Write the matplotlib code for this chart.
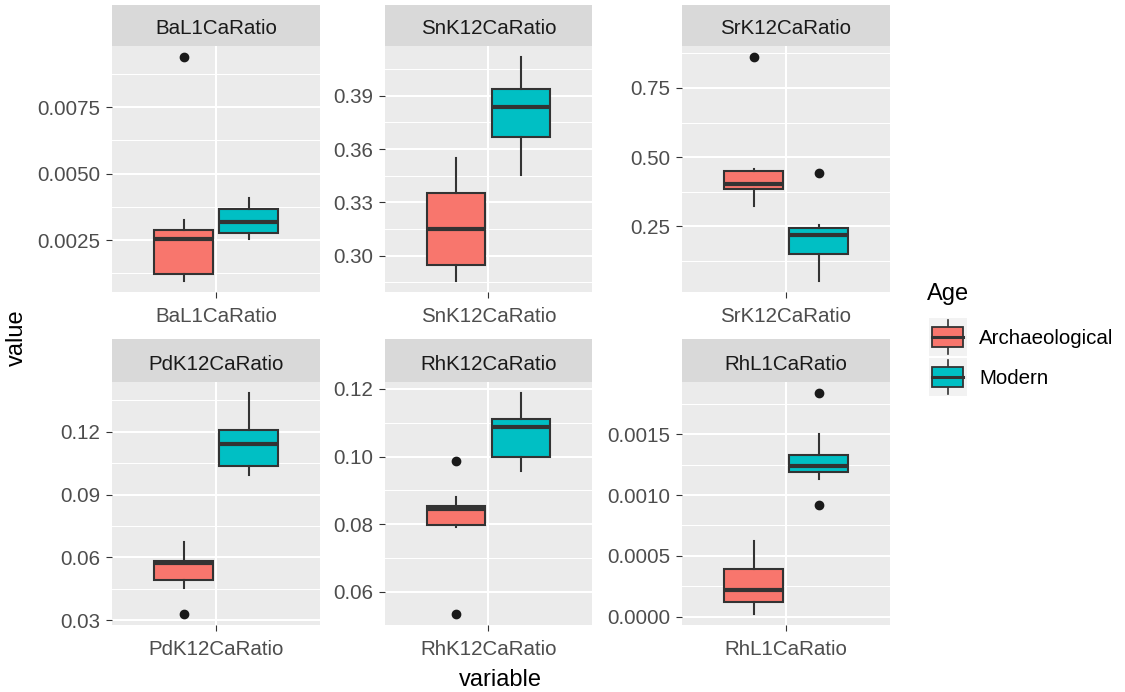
import matplotlib
matplotlib.use("Agg")
import matplotlib.pyplot as plt
from matplotlib.patches import Rectangle
import numpy as np

plt.rcParams['font.family'] = ['Liberation Sans', 'DejaVu Sans']

# ---------------- data ----------------
variables = ['BaL1CaRatio', 'SnK12CaRatio', 'SrK12CaRatio',
             'PdK12CaRatio', 'RhK12CaRatio', 'RhL1CaRatio']
groups = ['Archaeological', 'Modern']
group_colors = ['#F8766D', '#00BFC4']

arch_lo = [0.00097, 0.2858, 0.3233, 0.0453, 0.0791, 0.000022]
arch_q1 = [0.00124, 0.2949, 0.3834, 0.0494, 0.0797, 0.000124]
arch_med = [0.00254, 0.3152, 0.4029, 0.0573, 0.0846, 0.000220]
arch_q3 = [0.00288, 0.3354, 0.4505, 0.0585, 0.0853, 0.000393]
arch_hi = [0.00324, 0.3550, 0.4580, 0.0675, 0.0879, 0.000626]
arch_fliers = [[0.00938], [], [0.861], [0.0330], [0.0988, 0.0534], []]

mod_lo = [0.00254, 0.3455, 0.0535, 0.0995, 0.0956, 0.001129]
mod_q1 = [0.00277, 0.3667, 0.1488, 0.1038, 0.1000, 0.001189]
mod_med = [0.00320, 0.3837, 0.2185, 0.1140, 0.1088, 0.001239]
mod_q3 = [0.00367, 0.3938, 0.2427, 0.1208, 0.1110, 0.001333]
mod_hi = [0.00408, 0.4118, 0.2562, 0.1385, 0.1188, 0.001506]
mod_fliers = [[], [], [0.4443], [], [], [0.00184, 0.000921]]

y_ticks = [[0.0025, 0.0050, 0.0075],
           [0.30, 0.33, 0.36, 0.39],
           [0.25, 0.50, 0.75],
           [0.03, 0.06, 0.09, 0.12],
           [0.06, 0.08, 0.10, 0.12],
           [0.0000, 0.0005, 0.0010, 0.0015]]
y_tick_labels = [['0.0025', '0.0050', '0.0075'],
                 ['0.30', '0.33', '0.36', '0.39'],
                 ['0.25', '0.50', '0.75'],
                 ['0.03', '0.06', '0.09', '0.12'],
                 ['0.06', '0.08', '0.10', '0.12'],
                 ['0.0000', '0.0005', '0.0010', '0.0015']]

# ---------------- layout ----------------
W, H = 1125, 692
fig = plt.figure(figsize=(W / 100, H / 100), dpi=100)
fig.patch.set_facecolor('white')

col_x = [(112, 320), (385, 592), (682, 890)]
row_strip = [(5, 46), (339, 382)]
row_panel = [(46, 292), (382, 625)]

def px_axes(x0, y0, x1, y1):
    return fig.add_axes([x0 / W, 1 - y1 / H, (x1 - x0) / W, (y1 - y0) / H])

TXT = 14.8
BOX_EDGE = '#333333'

for i, var in enumerate(variables):
    r, c = divmod(i, 3)
    x0, x1 = col_x[c]
    sy0, sy1 = row_strip[r]
    py0, py1 = row_panel[r]

    # strip
    sax = px_axes(x0, sy0, x1, sy1)
    sax.set_facecolor('#D9D9D9')
    sax.set_xticks([]); sax.set_yticks([])
    for s in sax.spines.values():
        s.set_visible(False)
    sax.text(0.5, 0.5 - 3.5 / (sy1 - sy0), var, ha='center', va='center', fontsize=TXT,
             color='#1A1A1A', transform=sax.transAxes)

    ax = px_axes(x0, py0, x1, py1)
    ax.set_facecolor('#EBEBEB')
    for s in ax.spines.values():
        s.set_visible(False)

    stats = [
        dict(med=arch_med[i], q1=arch_q1[i], q3=arch_q3[i],
             whislo=arch_lo[i], whishi=arch_hi[i], fliers=arch_fliers[i]),
        dict(med=mod_med[i], q1=mod_q1[i], q3=mod_q3[i],
             whislo=mod_lo[i], whishi=mod_hi[i], fliers=mod_fliers[i]),
    ]
    all_vals = [arch_lo[i], arch_hi[i], mod_lo[i], mod_hi[i]] + arch_fliers[i] + mod_fliers[i]
    lo, hi = min(all_vals), max(all_vals)
    pad = (hi - lo) * 0.05
    ylo, yhi = lo - pad, hi + pad
    ax.set_ylim(ylo, yhi)
    ax.set_xlim(0.4, 1.6)

    # grid
    t = y_ticks[i]
    step = t[1] - t[0]
    minors = [t[0] - step / 2] + [v + step / 2 for v in t]
    for m in minors:
        if ylo < m < yhi:
            ax.axhline(m, color='white', lw=0.75, zorder=0.5)
    for v in t:
        ax.axhline(v, color='white', lw=1.5, zorder=0.6)
    ax.axvline(1, color='white', lw=1.5, zorder=0.6)

    res = ax.bxp(stats, positions=[1 - 0.1875, 1 + 0.1875], widths=0.3375,
                 patch_artist=True, showcaps=False,
                 boxprops=dict(edgecolor=BOX_EDGE, linewidth=1.5),
                 whiskerprops=dict(color=BOX_EDGE, linewidth=1.5),
                 medianprops=dict(color=BOX_EDGE, linewidth=3.0, solid_capstyle='butt'),
                 flierprops=dict(marker='o', markerfacecolor='#1A1A1A',
                                 markeredgecolor='#1A1A1A', markersize=6,
                                 linestyle='none'),
                 manage_ticks=False, zorder=2)
    for b, col in zip(res['boxes'], group_colors):
        b.set_facecolor(col)

    ax.set_yticks(t)
    ax.set_yticklabels(y_tick_labels[i])
    ax.set_xticks([1])
    ax.set_xticklabels([var])
    ax.tick_params(axis='both', length=4, width=0.8, color='#333333',
                   labelcolor='#4D4D4D', labelsize=TXT, pad=4.5)
    ax.tick_params(axis='x', pad=6.5)

# axis titles
fig.text(17 / W, 1 - 338 / H, 'value', rotation=90, ha='center', va='center',
         fontsize=17, color='black')
fig.text(500 / W, 1 - 680 / H, 'variable', ha='center', va='center',
         fontsize=17, color='black')

# legend (drawn manually in ggplot style)
lax = fig.add_axes([0, 0, 1, 1], facecolor='none')
lax.set_xlim(0, W); lax.set_ylim(H, 0)
lax.axis('off')
lax.text(927, 294, 'Age', ha='left', va='center', fontsize=17, color='black')
key_tops = [318, 358]
for kt, col, lab in zip(key_tops, group_colors, groups):
    lax.add_patch(Rectangle((929, kt), 38, 38, facecolor='#F2F2F2', edgecolor='none'))
    lax.plot([947.5, 947.5], [kt + 2, kt + 36], color=BOX_EDGE, lw=1.2)
    lax.add_patch(Rectangle((932, kt + 9), 31, 20, facecolor=col,
                            edgecolor=BOX_EDGE, lw=1.3, zorder=3))
    lax.plot([932, 963], [kt + 19, kt + 19], color=BOX_EDGE, lw=2.2, zorder=4)
    lax.text(979, kt + 21, lab, ha='left', va='center', fontsize=TXT, color='black')

fig.savefig('out.png', dpi=100)
